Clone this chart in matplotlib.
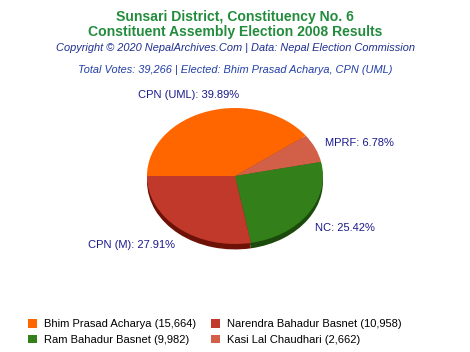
import matplotlib
matplotlib.use("Agg")
import matplotlib.pyplot as plt
from matplotlib.patches import Patch

plt.rcParams['font.family'] = ['Liberation Sans', 'DejaVu Sans']

# data, in the order drawn clockwise from the left edge of the pie
candidates = ["Bhim Prasad Acharya", "Kasi Lal Chaudhari", "Ram Bahadur Basnet", "Narendra Bahadur Basnet"]
parties = ["CPN (UML)", "MPRF", "NC", "CPN (M)"]
votes = [15664, 2662, 9982, 10958]
colors = ["#ff6600", "#d25f48", "#33801a", "#c0392b"]
side_colors = ["#a84300", "#8a3a2a", "#1c4a0c", "#6e1208"]
legend_order = [0, 2, 3, 1]

total = sum(votes)
W, H = 470, 352

fig = plt.figure(figsize=(W / 100, H / 100), dpi=100)
fig.patch.set_facecolor("white")

green = "#238c3c"
fig.text(0.5, 1 - 17 / H, "Sunsari District, Constituency No. 6", ha="center", va="center",
         fontsize=10.1, fontweight="bold", color=green)
fig.text(0.5, 1 - 32 / H, "Constituent Assembly Election 2008 Results", ha="center", va="center",
         fontsize=10.1, fontweight="bold", color=green)
fig.text(0.5, 1 - 48 / H, "Copyright \u00a9 2020 NepalArchives.Com | Data: Nepal Election Commission",
         ha="center", va="center", fontsize=7.9, style="italic", color="#1f2f8f")
fig.text(0.5, 1 - 70 / H, f"Total Votes: {total:,} | Elected: Bhim Prasad Acharya, CPN (UML)",
         ha="center", va="center", fontsize=7.9, style="italic", color="#2340a8")

# pie axes: circle of radius 1 squashed to an 88 x 68 px ellipse centred at (235, 176)
cx, cy, rx, ry = 235, 176, 88, 68
xl, xr, yb, yt = -1.05, 1.05, -1.15, 1.05
ax = fig.add_axes([(cx + xl * rx) / W, 1 - (cy - yb * ry) / H,
                   (xr - xl) * rx / W, (yt - yb) * ry / H])
depth = 0.08
ax.pie(votes, colors=side_colors, startangle=180, counterclock=False,
       center=(0, -depth), radius=1, wedgeprops=dict(linewidth=0))
wedges, _ = ax.pie(votes, colors=colors, startangle=180, counterclock=False,
                   center=(0, 0), radius=1, wedgeprops=dict(linewidth=0))
ax.set_aspect("auto")
ax.set_xlim(xl, xr)
ax.set_ylim(yb, yt)
ax.axis("off")

# slice labels
label_pos = [(-0.53, 1.19, "center"), (1.02, 0.485, "left"),
             (0.91, -0.765, "left"), (-0.68, -1.01, "right")]
for (lx, ly, ha), p, v in zip(label_pos, parties, votes):
    ax.text(lx, ly, f"{p}: {v / total * 100:.2f}%", ha=ha, va="center",
            fontsize=8, color="#1a1a8c", clip_on=False)

handles = [Patch(facecolor=colors[i], edgecolor="none") for i in legend_order]
labels = [f"{candidates[i]} ({votes[i]:,})" for i in legend_order]
fig.legend(handles, labels, ncol=2, loc="upper left", bbox_to_anchor=(28 / W, 1 - 319 / H),
           frameon=False, fontsize=8, borderpad=0, borderaxespad=0,
           handlelength=0.8, handleheight=0.8, handletextpad=0.65,
           columnspacing=1.3, labelspacing=0.5)

fig.savefig("out.png", dpi=100)
